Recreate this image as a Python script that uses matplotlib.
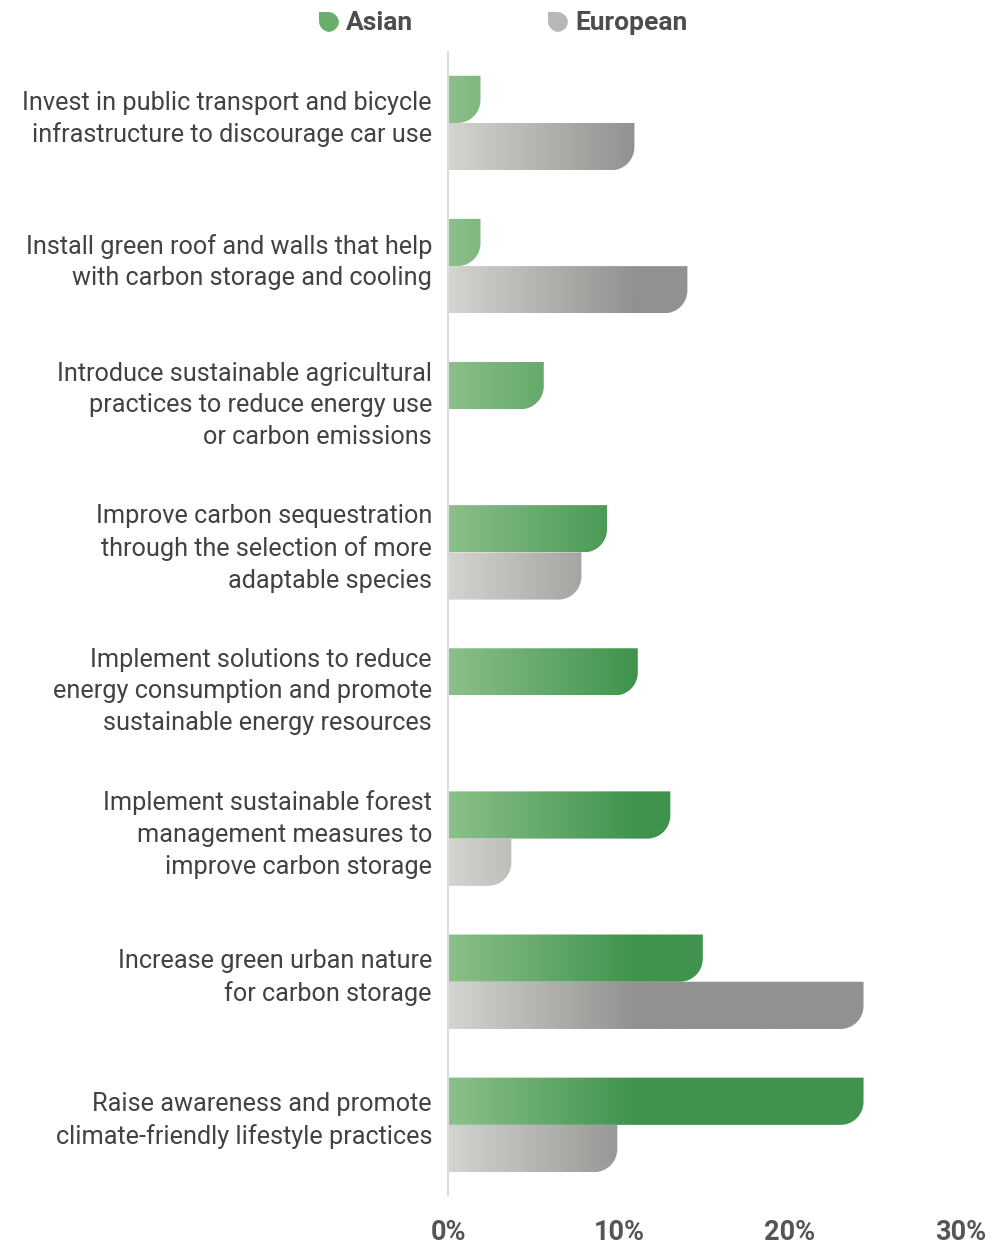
import numpy as np
import matplotlib
matplotlib.use("Agg")
import matplotlib.pyplot as plt
import matplotlib.transforms as mtransforms
from matplotlib.path import Path
from matplotlib.patches import PathPatch
from matplotlib.colors import LinearSegmentedColormap

categories = [
    "Invest in public transport and bicycle\ninfrastructure to discourage car use",
    "Install green roof and walls that help\nwith carbon storage and cooling",
    "Introduce sustainable agricultural\npractices to reduce energy use\nor carbon emissions",
    "Improve carbon sequestration\nthrough the selection of more\nadaptable species",
    "Implement solutions to reduce\nenergy consumption and promote\nsustainable energy resources",
    "Implement sustainable forest\nmanagement measures to\nimprove carbon storage",
    "Increase green urban nature\nfor carbon storage",
    "Raise awareness and promote\nclimate-friendly lifestyle practices",
]
asian = [1.9, 1.9, 5.6, 9.3, 11.1, 13.0, 14.9, 24.3]
european = [10.9, 14.0, 0, 7.8, 0, 3.7, 24.3, 9.9]
series = ["Asian", "European"]
xticks = [0, 10, 20, 30]

green_cmap = LinearSegmentedColormap.from_list("g", ["#8cc08a", "#3f934d"])
gray_cmap = LinearSegmentedColormap.from_list("k", ["#d4d4d0", "#91918f"])
text_col = "#424242"
plt.rcParams["font.family"] = ["Roboto", "DejaVu Sans"]

fig = plt.figure(figsize=(9.98, 12.44), dpi=100)
W, H = 998, 1244
ax = fig.add_axes([448 / W, 1 - 1195 / H, (961 - 448) / W, (1195 - 52) / H])

bh = 0.33
# pixel scale for corner radius
px_x = (961 - 448) / 30.0
px_y = (1125 - 123) / 7.0


def leaf_bar(ax, y0, y1, length, cmap):
    if length <= 0:
        return
    rx = min(23 / px_x, length * 0.95)
    ry = min(23 / px_y, (y1 - y0))
    k = 0.5523
    verts = [(0, y0), (length, y0), (length, y1 - ry),
             (length, y1 - ry * (1 - k)), (length - rx * (1 - k), y1), (length - rx, y1),
             (0, y1), (0, y0)]
    codes = [Path.MOVETO, Path.LINETO, Path.LINETO,
             Path.CURVE4, Path.CURVE4, Path.CURVE4,
             Path.LINETO, Path.CLOSEPOLY]
    patch = PathPatch(Path(verts, codes), facecolor="none", edgecolor="none")
    ax.add_patch(patch)
    xs = np.linspace(0, length, 300)
    grad = np.clip(xs / 11.0, 0, 1)[None, :]
    im = ax.imshow(grad, cmap=cmap, vmin=0, vmax=1, aspect="auto",
                   extent=[0, length, y1, y0], interpolation="bilinear")
    im.set_clip_path(patch)


for i in range(len(categories)):
    leaf_bar(ax, i - bh, i, asian[i], green_cmap)
    leaf_bar(ax, i, i + bh, european[i], gray_cmap)

ax.set_xlim(0, 30)
ax.set_ylim(7.49, -0.496)
ax.set_aspect("auto")
for s in ["top", "right", "bottom"]:
    ax.spines[s].set_visible(False)
ax.spines["left"].set_color("#dcdcdc")
ax.spines["left"].set_linewidth(1.5)

# category labels (as text, nudged up a little to sit like the original)
ax.set_yticks([])
lab_tr = ax.get_yaxis_transform() + mtransforms.ScaledTranslation(-0.16, 0.04, fig.dpi_scale_trans)
for i, lab in enumerate(categories):
    ax.text(0, i, lab, transform=lab_tr, ha="right", va="center", fontsize=18.2,
            color=text_col, linespacing=1.4, multialignment="right")

ax.set_xticks(xticks)
ax.set_xticklabels([f"{t}%" for t in xticks], fontsize=19.5, fontweight="bold", color="#555555")
ax.tick_params(axis="x", length=0, pad=17)

# legend drawn in pixel space
lax = fig.add_axes([0, 0, 1, 1])
lax.set_xlim(0, W)
lax.set_ylim(H, 0)
lax.axis("off")


def leaf_marker(x, y, s, color):
    r = s * 0.55
    k = 0.5523
    verts = [(x, y), (x + s - r, y),
             (x + s - r + r * k, y), (x + s, y + r - r * k), (x + s, y + r),
             (x + s, y + s - r), (x + s, y + s - r + r * k), (x + s - r + r * k, y + s), (x + s - r, y + s),
             (x + r, y + s), (x + r - r * k, y + s), (x, y + s - r + r * k), (x, y + s - r),
             (x, y)]
    codes = [Path.MOVETO, Path.LINETO, Path.CURVE4, Path.CURVE4, Path.CURVE4,
             Path.LINETO, Path.CURVE4, Path.CURVE4, Path.CURVE4,
             Path.LINETO, Path.CURVE4, Path.CURVE4, Path.CURVE4, Path.CLOSEPOLY]
    lax.add_patch(PathPatch(Path(verts, codes), facecolor=color, edgecolor="none"))


leaf_marker(319, 12, 20, "#6aae6c")
lax.text(346, 23, series[0], fontsize=19, fontweight="bold", color="#4d4d4d", va="center", ha="left")
leaf_marker(548, 12, 20, "#b7b7b4")
lax.text(575, 23, series[1], fontsize=19, fontweight="bold", color="#4d4d4d", va="center", ha="left")

fig.savefig("out.png", dpi=100)
